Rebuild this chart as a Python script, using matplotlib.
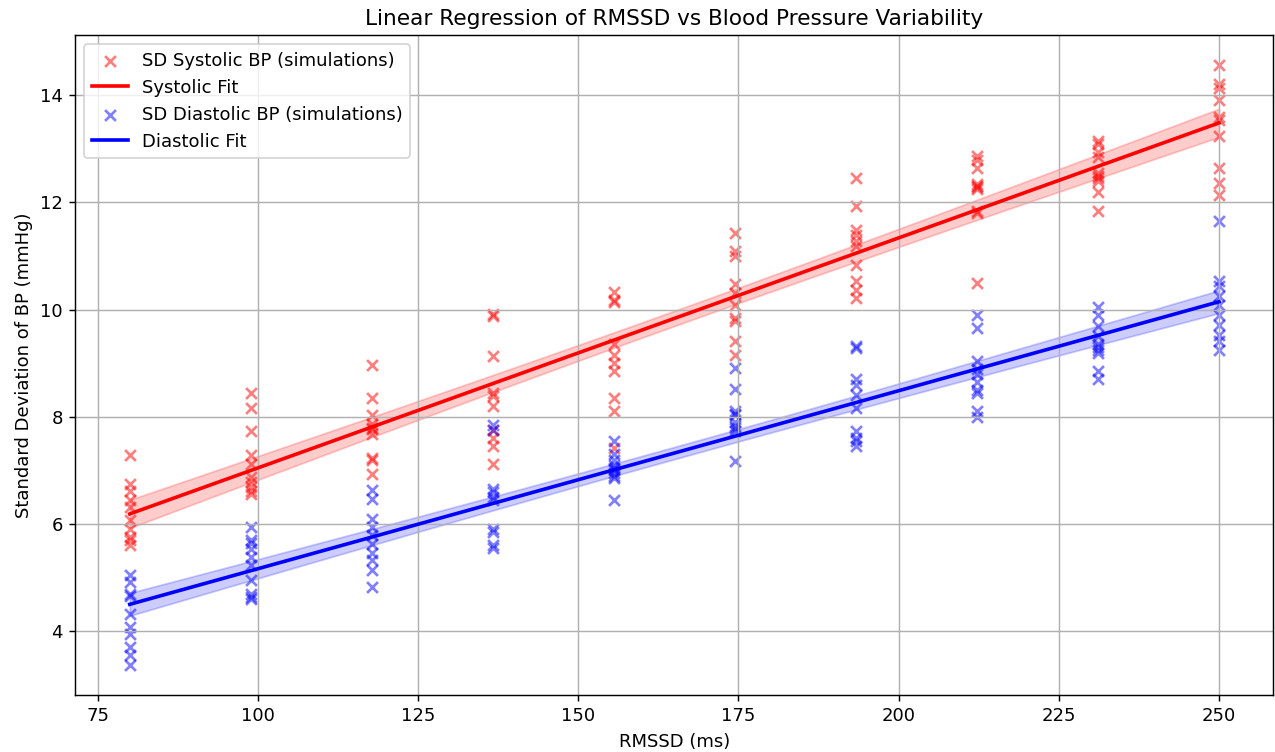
import numpy as np
import matplotlib
matplotlib.use("Agg")
import matplotlib.pyplot as plt

# RMSSD levels used in the simulations (ms)
rmssd_levels = [80.0, 98.9, 117.8, 136.7, 155.6, 174.4, 193.3, 212.2, 231.1, 250.0]

# SD of systolic BP for each simulation, grouped by RMSSD level
sd_sys = [
    [7.28, 6.74, 6.62, 6.44, 6.31, 6.07, 5.91, 5.75, 5.60, 5.70],
    [8.45, 8.17, 7.74, 7.28, 7.11, 6.87, 6.78, 6.69, 6.55, 6.62],
    [8.97, 8.36, 8.03, 7.86, 7.77, 7.67, 7.24, 7.20, 6.93, 7.80],
    [9.91, 9.88, 9.14, 8.45, 8.39, 8.20, 7.76, 7.61, 7.46, 7.11],
    [10.32, 10.15, 9.35, 9.16, 9.00, 8.86, 8.36, 8.11, 7.42, 10.18],
    [11.43, 11.10, 11.00, 10.47, 10.31, 10.09, 9.85, 9.79, 9.41, 9.16],
    [12.45, 11.93, 11.49, 11.40, 11.28, 11.19, 10.84, 10.54, 10.37, 10.22],
    [12.87, 12.80, 12.65, 12.35, 12.30, 12.25, 11.85, 11.80, 10.50, 12.28],
    [13.15, 13.10, 12.95, 12.85, 12.55, 12.50, 12.45, 12.40, 12.20, 11.85],
    [14.56, 14.22, 14.13, 13.91, 13.60, 13.54, 13.24, 12.64, 12.36, 12.14],
]

# SD of diastolic BP for each simulation, grouped by RMSSD level
sd_dia = [
    [5.04, 4.91, 4.69, 4.65, 4.32, 4.07, 3.94, 3.70, 3.55, 3.37],
    [5.95, 5.70, 5.65, 5.53, 5.38, 5.23, 4.95, 4.69, 4.63, 4.60],
    [6.63, 6.46, 6.09, 5.94, 5.79, 5.62, 5.45, 5.32, 5.14, 4.82],
    [7.85, 7.76, 6.65, 6.60, 6.50, 6.45, 5.90, 5.85, 5.60, 5.55],
    [7.55, 7.30, 7.20, 7.10, 7.00, 6.90, 6.85, 6.45, 7.05, 6.95],
    [8.92, 8.51, 8.11, 8.04, 7.83, 7.74, 7.18, 7.80, 8.05, 7.90],
    [9.33, 9.28, 8.70, 8.60, 8.41, 8.17, 7.74, 7.60, 7.55, 7.45],
    [9.90, 9.65, 9.05, 8.90, 8.80, 8.65, 8.50, 8.45, 8.10, 8.00],
    [10.05, 9.90, 9.70, 9.50, 9.35, 9.30, 9.25, 9.20, 8.85, 8.70],
    [11.65, 10.53, 10.44, 10.26, 10.09, 9.90, 9.72, 9.53, 9.42, 9.25],
]

x = np.repeat(rmssd_levels, [len(c) for c in sd_sys])
y_sys = np.concatenate(sd_sys)
xd = np.repeat(rmssd_levels, [len(c) for c in sd_dia])
y_dia = np.concatenate(sd_dia)


def fit_with_ci(xv, yv, xg):
    slope, icpt = np.polyfit(xv, yv, 1)
    pred = slope * xv + icpt
    n = len(xv)
    s = np.sqrt(np.sum((yv - pred) ** 2) / (n - 2))
    se = s * np.sqrt(1 / n + (xg - xv.mean()) ** 2 / np.sum((xv - xv.mean()) ** 2))
    yg = slope * xg + icpt
    return yg, yg - 1.96 * se, yg + 1.96 * se


xg = np.linspace(min(rmssd_levels), max(rmssd_levels), 200)
fs, fs_lo, fs_hi = fit_with_ci(x, y_sys, xg)
fd, fd_lo, fd_hi = fit_with_ci(xd, y_dia, xg)

fig, ax = plt.subplots(figsize=(12.76 / 1.3, 7.52 / 1.3), dpi=130)

ax.scatter(x, y_sys, marker="x", color="red", alpha=0.5, label="SD Systolic BP (simulations)")
ax.plot(xg, fs, color="red", lw=2, label="Systolic Fit")
ax.fill_between(xg, fs_lo, fs_hi, color="red", alpha=0.2)

ax.scatter(xd, y_dia, marker="x", color="blue", alpha=0.5, label="SD Diastolic BP (simulations)")
ax.plot(xg, fd, color="blue", lw=2, label="Diastolic Fit")
ax.fill_between(xg, fd_lo, fd_hi, color="blue", alpha=0.2)

ax.set_title("Linear Regression of RMSSD vs Blood Pressure Variability")
ax.set_xlabel("RMSSD (ms)")
ax.set_ylabel("Standard Deviation of BP (mmHg)")
ax.legend(loc="upper left")
ax.grid(True)

plt.subplots_adjust(left=0.059, right=0.998, top=0.953, bottom=0.076)
plt.savefig("out.png")
